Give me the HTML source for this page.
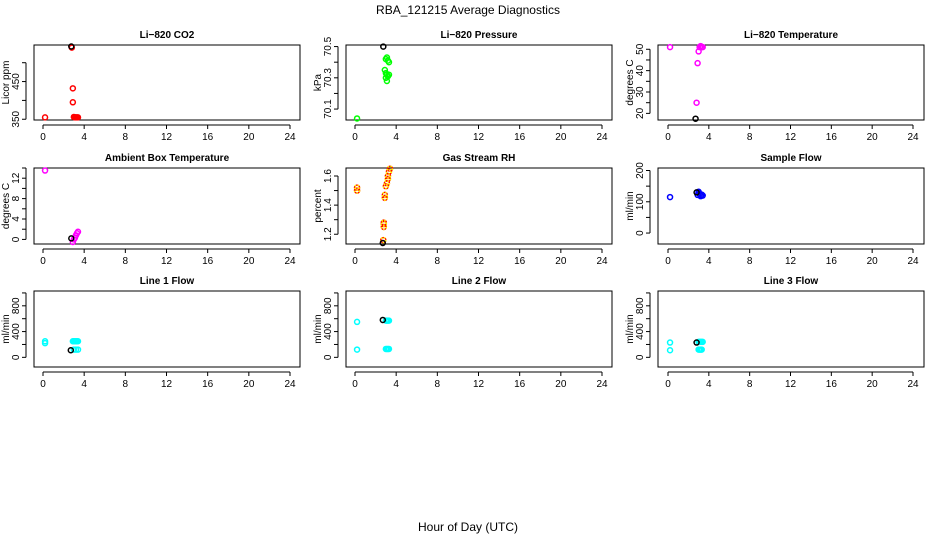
<!DOCTYPE html>
<html><head><meta charset="utf-8"><style>
body{margin:0;background:#fff;width:936px;height:540px;overflow:hidden}
svg text{font-family:"Liberation Sans",sans-serif;fill:#000}
</style></head><body>
<svg id="chart" width="936" height="540" xmlns="http://www.w3.org/2000/svg">
<text x="468" y="14" font-size="12" text-anchor="middle">RBA_121215  Average Diagnostics</text>
<text x="468" y="531" font-size="12" text-anchor="middle">Hour of Day (UTC)</text>
</svg>
<script>
// ---- data ----
const xTicks = [0,4,8,12,16,20,24];
const co2Hours = [0.2,2.8,2.9,2.9,3.0,3.1,3.2,3.3,3.4];
const co2Values = [355,540,432,395,356,355,355,355,355];
const co2Black = [[2.75,543]];
const presHours = [0.2,3.0,3.1,3.2,3.3,2.9,3.0,3.1,3.2,3.3,3.1,3.0];
const presValues = [70.04,70.42,70.43,70.41,70.40,70.35,70.33,70.32,70.31,70.32,70.28,70.30];
const presBlack = [[2.75,70.5]];
const ltHours = [0.2,3.1,3.2,3.3,3.4,3.0,2.9,2.8];
const ltValues = [51,51,51.5,51,51,49,43.5,25];
const ltBlack = [[2.7,17.5]];
const ambHours = [0.2,2.9,3.0,3.1,3.2,3.3,3.4];
const ambValues = [13.5,-0.5,0,0.3,0.8,1.2,1.5];
const ambBlack = [[2.75,0.2]];
const rhHours = [0.2,0.2,2.75,2.8,2.8,2.8,2.9,2.9,3.0,3.1,3.2,3.2,3.3,3.4];
const rhValues = [1.52,1.50,1.16,1.25,1.27,1.28,1.45,1.47,1.53,1.55,1.58,1.60,1.63,1.65];
const rhBlack = [[2.7,1.14]];
const sfHours = [0.2,2.9,3.0,3.1,3.2,3.3,3.4,3.0,3.2];
const sfValues = [115,122,128,125,120,123,120,132,118];
const sfBlack = [[2.8,130]];
const l1Hours = [0.2,0.2,2.9,3.0,3.1,3.2,3.3,3.4,3.0,3.2,3.4];
const l1Values = [250,220,250,250,250,250,250,250,120,120,120];
const l1Black = [[2.7,110]];
const l2Hours = [0.2,0.2,3.0,3.1,3.2,3.3,3.0,3.1,3.2,3.3];
const l2Values = [550,120,570,570,570,570,130,130,130,130];
const l2Black = [[2.7,580]];
const l3Hours = [0.2,0.2,3.0,3.1,3.2,3.3,3.4,3.0,3.1,3.2,3.3];
const l3Values = [230,110,240,240,240,240,240,120,120,120,120];
const l3Black = [[2.8,230]];

const NS="http://www.w3.org/2000/svg";
const svg=document.getElementById('chart');
function el(tag,attrs,parent){const e=document.createElementNS(NS,tag);for(const k in attrs)e.setAttribute(k,attrs[k]);(parent||svg).appendChild(e);return e;}

const cols=[{l:34,r:300,x0:43,x24:290},{l:346,r:612,x0:355,x24:602},{l:658,r:924,x0:668,x24:913}];
const rows=[{t:45,b:120},{t:168,b:244},{t:291,b:367}];

function panel(name,title,ylab,ci,ri,ymin,ymax,yTicks,yLabels,hours,vals,black,color,rh){
  const c=cols[ci],r=rows[ri];
  const g=el('g',{});
  
  
  const xs=t=>c.x0+(t/24)*(c.x24-c.x0);
  const ys=v=>r.b-(v-ymin)/(ymax-ymin)*(r.b-r.t);
  const box=el('rect',{x:c.l,y:r.t,width:c.r-c.l,height:r.b-r.t,fill:'none',stroke:'#000','stroke-width':1},g);
  
  
  const tt=el('text',{x:(c.l+c.r)/2,y:r.t-7,'font-size':10,'font-weight':'bold','text-anchor':'middle'},g);
  tt.textContent=title;
  
  
  const xa=el('g',{},g);
  
  
  el('line',{x1:xs(0),x2:xs(24),y1:r.b+5,y2:r.b+5,stroke:'#000'},xa);
  xTicks.forEach(t=>{
    el('line',{x1:xs(t),x2:xs(t),y1:r.b+5,y2:r.b+9,stroke:'#000'},xa);
    const tx=el('text',{x:xs(t),y:r.b+20,'font-size':10,'text-anchor':'middle'},xa);
    tx.textContent=t;
  });
  const ya=el('g',{},g);
  
  
  const ax=c.l-8;
  el('line',{x1:ax,x2:ax,y1:ys(yTicks[0]),y2:ys(yTicks[yTicks.length-1]),stroke:'#000'},ya);
  yTicks.forEach(v=>el('line',{x1:ax-4,x2:ax,y1:ys(v),y2:ys(v),stroke:'#000'},ya));
  yLabels.forEach(v=>{
    const tx=el('text',{x:0,y:0,'font-size':10,'text-anchor':'middle',transform:`translate(${ax-7},${ys(v)}) rotate(-90)`},ya);
    tx.textContent=v;
  });
  const yl=el('text',{x:0,y:0,'font-size':10,'text-anchor':'middle',transform:`translate(${c.l-25},${(r.t+r.b)/2}) rotate(-90)`},g);
  yl.textContent=ylab;
  
  
  hours.forEach((h,i)=>{
    const p=el('circle',{cx:xs(h),cy:ys(vals[i]),r:2.5,fill:'none',stroke:color,'stroke-width':1.5},g);
    
    
    if(rh){el('circle',{cx:xs(h),cy:ys(vals[i]),r:2.5,fill:'none',stroke:'#ff0','stroke-width':1.5,'stroke-dasharray':'1.5 1.5'},g);}
  });
  black.forEach(b=>{
    const p=el('circle',{cx:xs(b[0]),cy:ys(b[1]),r:2.5,fill:'none',stroke:'#000','stroke-width':1.5},g);
    
    
  });
}
panel('co2','Li\u2212820 CO2','Licor ppm',0,0,348,547,[350,400,450,500],[350,450],co2Hours,co2Values,co2Black,'#f00');
panel('pressure','Li\u2212820 Pressure','kPa',1,0,70.03,70.51,[70.1,70.2,70.3,70.4,70.5],[70.1,70.3,70.5],presHours,presValues,presBlack,'#0f0');
panel('li820-temp','Li\u2212820 Temperature','degrees C',2,0,16.9,52,[20,25,30,35,40,45,50],[20,30,40,50],ltHours,ltValues,ltBlack,'#f0f');
panel('ambient-temp','Ambient Box Temperature','degrees C',0,1,-0.9,14,[0,2,4,6,8,10,12,14],[0,4,8,12],ambHours,ambValues,ambBlack,'#f0f');
panel('gas-rh','Gas Stream RH','percent',1,1,1.133,1.655,[1.2,1.3,1.4,1.5,1.6],[1.2,1.4,1.6],rhHours,rhValues,rhBlack,'#f00',true);
panel('sample-flow','Sample Flow','ml/min',2,1,-35,208,[0,50,100,150,200],[0,100,200],sfHours,sfValues,sfBlack,'#00f');
panel('line1-flow','Line 1 Flow','ml/min',0,2,-150,1030,[0,200,400,600,800,1000],[0,400,800],l1Hours,l1Values,l1Black,'#0ff');
panel('line2-flow','Line 2 Flow','ml/min',1,2,-150,1030,[0,200,400,600,800,1000],[0,400,800],l2Hours,l2Values,l2Black,'#0ff');
panel('line3-flow','Line 3 Flow','ml/min',2,2,-150,1030,[0,200,400,600,800,1000],[0,400,800],l3Hours,l3Values,l3Black,'#0ff');
</script>
</body></html>
